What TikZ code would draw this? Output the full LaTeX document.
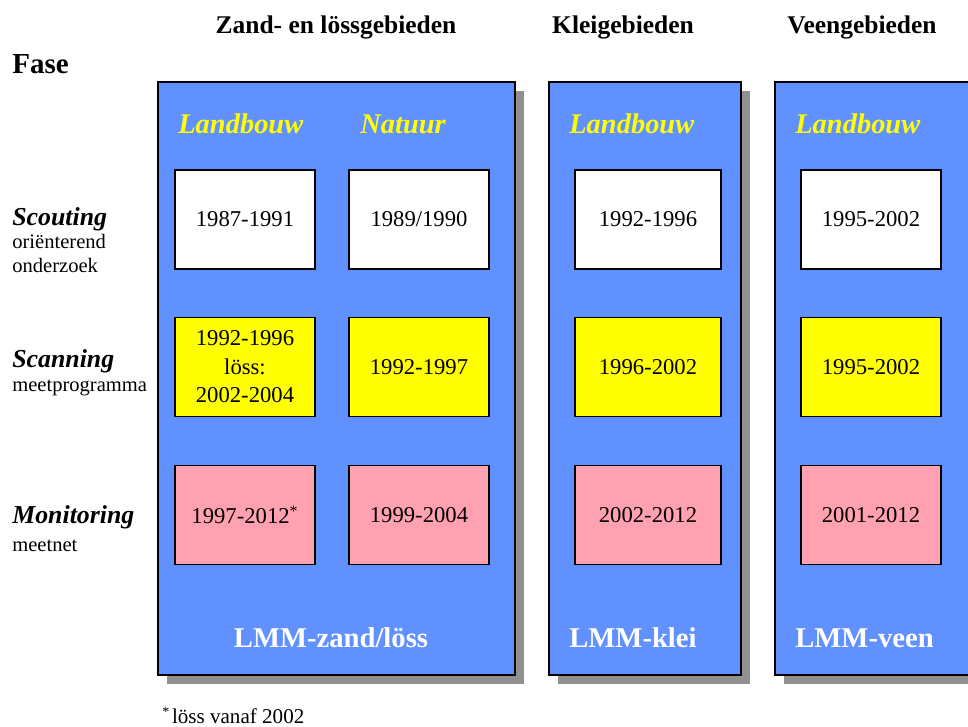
\documentclass[tikz,border=0pt]{standalone}
\usepackage{fontspec}
\setmainfont{Liberation Serif}
\usetikzlibrary{shadows}
\definecolor{vlakblauw}{RGB}{97,144,255}
\definecolor{schaduw}{RGB}{145,145,145}
\definecolor{geel}{RGB}{255,255,0}
\definecolor{roze}{RGB}{255,161,176}
\begin{document}
\begin{tikzpicture}[x=0.02cm,y=-0.02cm,
    vlak/.style={draw=black,fill=vlakblauw,line width=0.8pt,inner sep=0pt,
      minimum height=11.86cm,
      drop shadow={shadow xshift=0.18cm,shadow yshift=-0.18cm,fill=schaduw,opacity=1}},
    jaar/.style={draw=black,line width=0.8pt,minimum width=2.8cm,minimum height=1.98cm,
      align=center,font=\fontsize{12.9}{16.2}\selectfont},
    kop/.style={anchor=base,font=\fontsize{14.5}{17}\selectfont\bfseries},
    soort/.style={anchor=base west,text=geel,inner sep=0pt,
      font=\fontsize{16.2}{19}\selectfont\bfseries\itshape},
    lmm/.style={anchor=base,text=white,inner sep=0pt,font=\fontsize{16.3}{19}\selectfont\bfseries},
    fase/.style={anchor=base west,inner sep=0pt,font=\fontsize{14.7}{17}\selectfont\bfseries\itshape},
    uitleg/.style={anchor=base west,inner sep=0pt,font=\fontsize{11.7}{14}\selectfont}]
  \useasboundingbox (0,0) rectangle (968,727);

  % kopjes
  \node [kop] (kop-zl) at (336,33) {Zand- en lössgebieden};
  \node [kop] (kop-kl) at (623,33) {Kleigebieden};
  \node [kop] (kop-vn) at (862,33) {Veengebieden};
  \node [anchor=base west,inner sep=0pt,font=\fontsize{16.5}{19}\selectfont\bfseries] (fase) at (12,73) {Fase};

  % vlakken
  \node [vlak,minimum width=7.14cm] (zl) at (336.5,378.5) {};
  \node [vlak,minimum width=3.84cm] (kl) at (645,378.5) {};
  \node [vlak,minimum width=4cm] (vn) at (875,378.5) {};

  \node [soort] (zl-lb) at (178,133) {Landbouw};
  \node [soort] (zl-nt) at (360,133) {Natuur};
  \node [soort] (kl-lb) at (569,133) {Landbouw};
  \node [soort] (vn-lb) at (795,133) {Landbouw};

  % fasen
  \node [fase] (scouting) at (12,225) {Scouting};
  \node [uitleg] (scouting-a) at (12,248) {oriënterend};
  \node [uitleg] (scouting-b) at (12,272) {onderzoek};
  \node [fase] (scanning) at (12,367) {Scanning};
  \node [uitleg] (scanning-a) at (12,391) {meetprogramma};
  \node [fase] (monitoring) at (12,523) {Monitoring};
  \node [uitleg] (monitoring-a) at (12,551) {meetnet};

  % jaren
  \node [jaar,fill=white] (zl-sc-lb) at (245,219.5) {1987-1991};
  \node [jaar,fill=white] (zl-sc-nt) at (419,219.5) {1989/1990};
  \node [jaar,fill=white,minimum width=2.92cm] (kl-sc) at (648,219.5) {1992-1996};
  \node [jaar,fill=white] (vn-sc) at (871,219.5) {1995-2002};

  \node [jaar,fill=geel] (zl-sn-lb) at (245,367) {1992-1996\\löss:\\2002-2004};
  \node [jaar,fill=geel] (zl-sn-nt) at (419,367) {1992-1997};
  \node [jaar,fill=geel,minimum width=2.92cm] (kl-sn) at (648,367) {1996-2002};
  \node [jaar,fill=geel] (vn-sn) at (871,367) {1995-2002};

  \node [jaar,fill=roze] (zl-mo-lb) at (245,515) {1997-2012\textsuperscript{*}};
  \node [jaar,fill=roze] (zl-mo-nt) at (419,515) {1999-2004};
  \node [jaar,fill=roze,minimum width=2.92cm] (kl-mo) at (648,515) {2002-2012};
  \node [jaar,fill=roze] (vn-mo) at (871,515) {2001-2012};

  % meetnetten
  \node [lmm] (lmm-zl) at (331,647) {LMM-zand/löss};
  \node [lmm,anchor=base west] (lmm-kl) at (569,647) {LMM-klei};
  \node [lmm,anchor=base west] (lmm-vn) at (795,647) {LMM-veen};

  \node [anchor=base west,inner sep=0pt,font=\fontsize{12}{14}\selectfont] (voetnoot) at (162,723)
    {\raisebox{-0.6pt}{\textsuperscript{*}}\hspace{1pt}löss vanaf 2002};
\end{tikzpicture}
\end{document}
